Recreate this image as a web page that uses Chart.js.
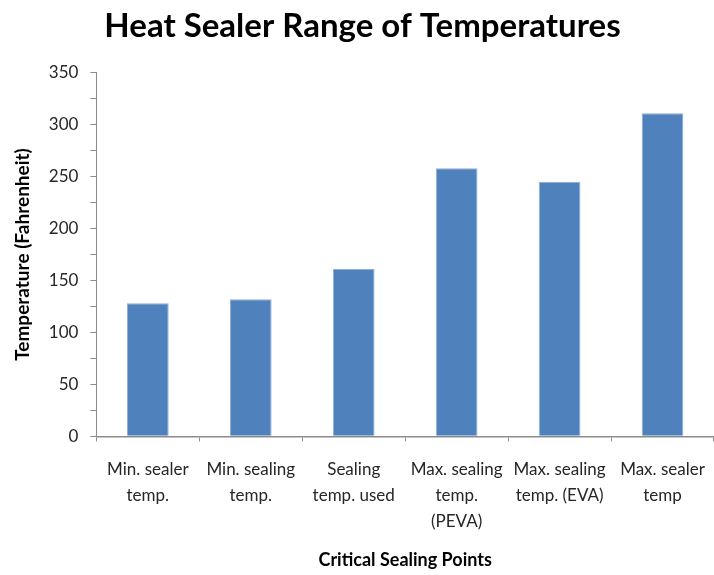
<!DOCTYPE html>
<html>
<head>
<meta charset="utf-8">
<script src="https://cdn.jsdelivr.net/npm/chart.js@4.4.1/dist/chart.umd.min.js"></script>
<style>
    html, body { margin: 0; padding: 0; background: #fff; }
    #wrap { width: 714px; height: 575px; }
</style>
</head>
<body>
<div id="wrap"><canvas id="chart-temps" width="714" height="575"></canvas></div>
<script>
// sealing points on the x axis (multi-line labels)
var categories = [
    ['Min. sealer', 'temp.'],
    ['Min. sealing', 'temp.'],
    ['Sealing', 'temp. used'],
    ['Max. sealing', 'temp.', '(PEVA)'],
    ['Max. sealing', 'temp. (EVA)'],
    ['Max. sealer', 'temp']
];
// temperatures in Fahrenheit
var temperatures = [128, 132, 161, 258, 245, 311];
var yTickLabels = [0, 50, 100, 150, 200, 250, 300, 350];

var fontFamily = 'Lato, "Open Sans", sans-serif';

var ctx = document.getElementById('chart-temps');
var chartTemps = new Chart(ctx, {
    type: 'bar',
    data: {
        labels: categories,
        datasets: [{
            label: 'Temperature',
            data: temperatures,
            backgroundColor: '#4F81BD',
            borderColor: '#8FAED6',
            borderWidth: 1,
            barPercentage: 0.405,
            categoryPercentage: 1
        }]
    },
    options: {
        responsive: false,
        animation: false,
        layout: {
            padding: { left: 11, right: 0, top: 0, bottom: 4 }
        },
        plugins: {
            legend: { display: false },
            tooltip: { enabled: false },
            title: {
                display: true,
                text: 'Heat Sealer Range of Temperatures',
                color: '#000',
                font: { family: fontFamily, size: 33, weight: 'bold' },
                padding: { top: 7, bottom: 26 }
            }
        },
        scales: {
            x: {
                // let the axis run to the right edge like the original
                afterFit: function (scale) {
                    scale.paddingRight = 0;
                },
                grid: {
                    drawOnChartArea: false,
                    drawTicks: true,
                    tickLength: 5,
                    color: '#8c8c8c'
                },
                border: { display: true, color: '#8c8c8c', width: 1.5 },
                ticks: {
                    color: '#262626',
                    maxRotation: 0,
                    autoSkip: false,
                    padding: 15,
                    font: { family: fontFamily, size: 17, lineHeight: 1.53 }
                },
                title: {
                    display: true,
                    text: 'Critical Sealing Points',
                    color: '#000',
                    font: { family: fontFamily, size: 18, weight: 'bold' },
                    padding: { top: 0, bottom: 0 }
                }
            },
            y: {
                min: 0,
                max: 350,
                grid: {
                    drawOnChartArea: false,
                    drawTicks: true,
                    tickLength: 6,
                    color: '#8c8c8c'
                },
                border: { display: true, color: '#8c8c8c', width: 1 },
                ticks: {
                    stepSize: 25,
                    autoSkip: false,
                    color: '#262626',
                    padding: 12,
                    font: { family: fontFamily, size: 17 },
                    callback: function (value) {
                        return yTickLabels.indexOf(value) >= 0 ? value : '';
                    }
                },
                title: {
                    display: true,
                    text: 'Temperature (Fahrenheit)',
                    color: '#000',
                    font: { family: fontFamily, size: 19, weight: 'bold' },
                    padding: { top: 0, bottom: 3 }
                }
            }
        }
    }
});
</script>
</body>
</html>
